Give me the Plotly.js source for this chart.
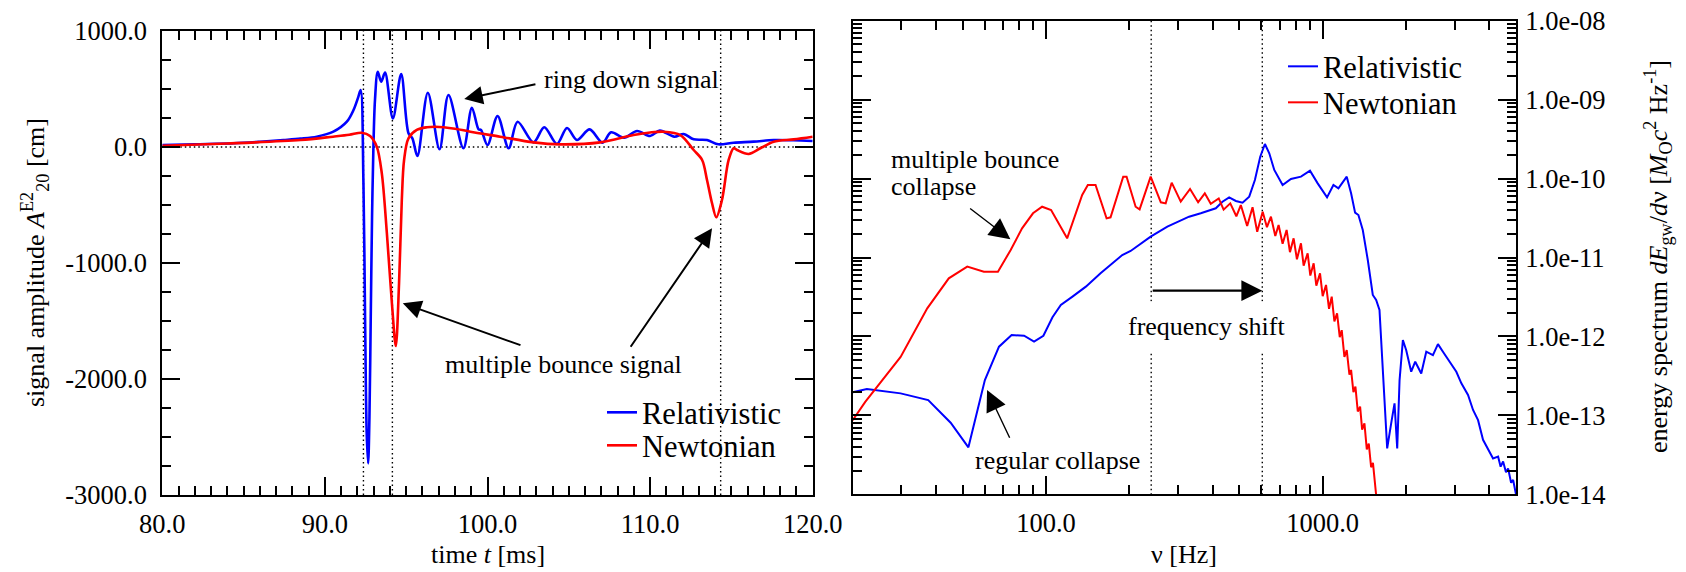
<!DOCTYPE html>
<html>
<head>
<meta charset="utf-8">
<script src="https://cdn.plot.ly/plotly-3.0.1.min.js"></script>
<style>
  html, body { margin: 0; padding: 0; background: #fff; }
  #chart { width: 1686px; height: 572px; }
</style>
</head>
<body>
<div id="chart"></div>
<script>
// ---- waveform: signal amplitude A20^E2 [cm] versus time [ms] ----
const tRel = [80, 82, 84.4, 86, 87.45, 88.5, 89.5, 90.52, 91.35, 91.76, 92.06, 92.2, 92.37, 92.47, 92.57,
  92.66, 92.74, 92.82, 92.9, 92.98, 93.08, 93.25, 93.46, 93.7, 94.18, 94.69, 95.14, 95.38, 95.69, 96.33,
  97.05, 97.6, 98.52, 99.04, 99.45, 99.6, 100.0, 100.62, 101.3, 101.85, 102.83, 103.49, 104.27, 104.89, 105.5,
  106.28, 107.08, 107.6, 108.4, 109.2, 110.0, 110.6, 111.49, 112.06, 112.68, 113.5, 114.2, 115.14, 116.37, 117.6,
  118.8, 120];
const ampRel = [17, 24, 32, 45, 60, 72, 89, 132, 218, 319, 434, 491, -310, -1463, -2466,
  -2727, -2325, -1463, -601, -26, 405, 649, 563, 641, 247, 629, 118, 75, -78, 468,
  -20, 448, -11, 339, 152, 147, 17, 267, -11, 218, 40, 170, 26, 164, 60,
  152, 37, 127, 80, 138, 95, 141, 89, 112, 66, 60, 23, 37, 46, 60,
  58, 52];

const tNew = [80, 84, 88.5, 90.5, 91.5, 92.27, 92.78, 93.19, 93.5, 93.81, 94.12, 94.36, 94.56, 94.73, 94.87,
  95.14, 95.65, 96.27, 96.78, 98.0, 98.94, 100.78, 102.83, 104.47, 106.93, 108.98, 110.0, 110.83, 111.86, 112.68,
  113.2, 113.5, 113.81, 114.07, 114.42, 114.83, 115.14, 115.35, 116.06, 116.78, 117.6, 118.83, 120];
const ampNew = [11, 30, 60, 89, 105, 123, 95, 3, -227, -741, -1345, -1716, -1175, -457, -112,
  75, 147, 170, 175, 158, 132, 89, 40, 23, 40, 103, 125, 132, 103, -26,
  -112, -284, -485, -606, -457, -112, -11, -26, -60, -11, 46, 66, 89];

// bounce times marked with dotted lines [ms]
const bounceTimes = [92.37, 94.15, 114.34];

// ---- energy spectrum dE/dnu versus frequency [Hz] ----
const nuRel = [20, 22.5, 29.8, 37.5, 45.2, 52.4, 60.1, 67.6, 75.1, 83.3, 90.5, 97.8, 105.5, 113.1, 124.6,
  139.3, 157.4, 171.1, 188.6, 202.2, 219.8, 238.9, 274.5, 328.9, 362.5, 410.9, 434.3, 459.2, 485.5, 513.3,
  542.7, 568.9, 594.8, 618.4, 641.2, 668.5, 716.5, 768, 834.8, 900, 959.4, 1037.2, 1093.7, 1140.2, 1222,
  1267, 1310, 1346.7, 1396.5, 1456, 1518, 1561, 1605, 1651, 1711, 1769, 1819, 1860, 1897, 1950,
  2005, 2090, 2161, 2272, 2369, 2504, 2611, 2722, 2919, 3043, 3173, 3354, 3497, 3646, 3800,
  3986, 4131, 4308, 4400, 4491, 4600, 4682, 4800, 4882, 5000];
const specRel = [1.96e-13, 2.16e-13, 1.9e-13, 1.56e-13, 8.07e-14, 3.94e-14, 2.8e-13, 7.41e-13, 1.04e-12, 1.02e-12, 8.6e-13, 1.02e-12, 1.75e-12, 2.5e-12, 3.19e-12,
  4.27e-12, 6.3e-12, 8.04e-12, 1.076e-11, 1.21e-11, 1.51e-11, 1.84e-11, 2.46e-11, 3.29e-11, 3.63e-11, 4.2e-11, 5.09e-11, 5.78e-11, 5.2e-11, 4.95e-11,
  5.9e-11, 9.6e-11, 1.89e-10, 2.74e-10, 2.09e-10, 1.285e-10, 8.28e-11, 9.9e-11, 1.057e-10, 1.26e-10, 8.7e-11, 5.78e-11, 8.28e-11, 7.52e-11, 1.057e-10,
  6.5e-11, 3.7e-11, 3.45e-11, 2.23e-11, 9.3e-12, 3.35e-12, 2.9e-12, 2.16e-12, 3.4e-13, 3.82e-14, 7.9e-14, 1.42e-13, 3.82e-14, 2.8e-13, 9.0e-13,
  6.7e-13, 3.57e-13, 4.79e-13, 3.4e-13, 6.4e-13, 5.8e-13, 8.0e-13, 6.4e-13, 4.35e-13, 3.57e-13, 2.55e-13, 1.81e-13, 1.17e-13, 8.7e-14, 4.9e-14,
  3.64e-14, 2.85e-14, 3.0e-14, 2.24e-14, 2.6e-14, 1.9e-14, 2.13e-14, 1.4e-14, 1.52e-14, 1.0e-14];

const nuNew = [20, 22.2, 29.8, 37.2, 44.5, 51.9, 59.6, 67.0, 74.5, 81.9, 89.7, 96.8, 104.3, 119.2, 135.1,
  141.6, 151, 165.5, 171.1, 190.1, 195.5, 210.8, 217.9, 238.9, 260, 270.7, 284.6, 306.9, 331.6, 354.6,
  374.9, 394, 421, 438.5, 463.5, 487.5, 506, 533.4, 557.9, 580, 607, 628.9, 650.2, 674.2, 693,
  716.5, 740.8, 761.7, 785.3, 807.2, 834.8, 853.6, 882.6, 902.4, 927.8, 948.7, 978.3, 1000.3, 1028.5, 1054.6,
  1078.4, 1102.6, 1127.5, 1152.9, 1172, 1198.6, 1222, 1249.6, 1267, 1292, 1313.7, 1339.6, 1365.8, 1389, 1416,
  1444, 1468, 1497, 1520, 1565];
const specNew = [8.7e-14, 1.48e-13, 5.5e-13, 2.27e-12, 5.45e-12, 7.66e-12, 6.6e-12, 6.6e-12, 1.245e-11, 2.34e-11, 3.63e-11, 4.4e-11, 4.0e-11, 1.75e-11, 6.2e-11,
  8.28e-11, 8.28e-11, 3.13e-11, 3.23e-11, 1.057e-10, 1.057e-10, 4.4e-11, 4.07e-11, 1.057e-10, 5.0e-11, 4.85e-11, 8.87e-11, 5.1e-11, 7.38e-11, 5.0e-11,
  6.5e-11, 4.8e-11, 5.6e-11, 4.04e-11, 4.85e-11, 3.33e-11, 4.62e-11, 2.51e-11, 4.33e-11, 2.12e-11, 3.81e-11, 2.42e-11, 3.29e-11, 1.87e-11, 2.58e-11,
  1.49e-11, 2.23e-11, 1.17e-11, 1.75e-11, 9.5e-12, 1.51e-11, 7.9e-12, 1.13e-11, 5.9e-12, 8.43e-12, 4.4e-12, 6.31e-12, 3.24e-12, 4.49e-12, 2.24e-12,
  3.19e-12, 1.55e-12, 1.96e-12, 9.8e-13, 1.2e-12, 5.5e-13, 6.7e-13, 3.27e-13, 3.76e-13, 1.97e-13, 2.31e-13, 1.12e-13, 1.29e-13, 6.6e-14, 7.9e-14,
  3.7e-14, 4.4e-14, 2.2e-14, 2.5e-14, 8.9e-15];

// peak frequencies of the two collapse models [Hz]
const peakFreqs = [240, 605];

// ---- tick labels ----
const timeTicks = [80, 90, 100, 110, 120];
const timeLabels = ['80.0', '90.0', '100.0', '110.0', '120.0'];
const ampTicks = [1000, 0, -1000, -2000, -3000];
const ampLabels = ['1000.0', '0.0', '-1000.0', '-2000.0', '-3000.0'];
const freqTicks = [100, 1000];
const freqLabels = ['100.0', '1000.0'];
const specTicks = [1e-8, 1e-9, 1e-10, 1e-11, 1e-12, 1e-13, 1e-14];
const specLabels = ['1.0e-08', '1.0e-09', '1.0e-10', '1.0e-11', '1.0e-12', '1.0e-13', '1.0e-14'];

// ---------------------------------------------------------------------
const W = 1686, H = 572;
const fx = p => p / W;          // pixel column -> paper x
const fy = p => 1 - p / H;      // pixel row    -> paper y
const FONT = '"Liberation Serif", "Times New Roman", Times, serif';
const BLUE = '#0000ff', RED = '#ff0000';

const range = (a, b, s) => { const r = []; for (let v = a; v <= b + 1e-9; v += s) r.push(+v.toFixed(6)); return r; };
const timeMinor = range(80, 120, 1).filter(v => v % 10 !== 0);
const ampMinor = range(-3000, 1000, 250).filter(v => v % 1000 !== 0);
const freqMinor = [];
[10, 100, 1000].forEach(d => { for (let k = 2; k <= 9; k++) freqMinor.push(k * d); });
const specMinor = [];
for (let e = -14; e < -8; e++) for (let k = 2; k <= 9; k++) specMinor.push(k * Math.pow(10, e));

const L = Math.log10;

const traces = [
  { x: tRel, y: ampRel, xaxis: 'x', yaxis: 'y', type: 'scatter', mode: 'lines', name: 'Relativistic',
    line: { color: BLUE, width: 2.6, shape: 'spline', smoothing: 0.9 }, legend: 'legend' },
  { x: tNew, y: ampNew, xaxis: 'x', yaxis: 'y', type: 'scatter', mode: 'lines', name: 'Newtonian',
    line: { color: RED, width: 2.6, shape: 'spline', smoothing: 0.9 }, legend: 'legend2' },
  // dotted markers at the two peak frequencies
  ...peakFreqs.map(f => ({ x: [f, f], y: [specTicks[0], specTicks[6]], xaxis: 'x2', yaxis: 'y2',
    type: 'scatter', mode: 'lines', showlegend: false, hoverinfo: 'skip',
    line: { color: 'black', width: 1.4, dash: '1.5px,3px' } })),
  { x: nuRel, y: specRel, xaxis: 'x2', yaxis: 'y2', type: 'scatter', mode: 'lines', name: 'Relativistic',
    line: { color: BLUE, width: 2 }, legend: 'legend3' },
  { x: nuNew, y: specNew, xaxis: 'x2', yaxis: 'y2', type: 'scatter', mode: 'lines', name: 'Newtonian',
    line: { color: RED, width: 2 }, legend: 'legend4' }
];

const axisCommon = {
  showline: true, linecolor: 'black', linewidth: 2, mirror: 'ticks',
  ticks: 'inside', ticklen: 18, tickwidth: 2, tickcolor: 'black',
  showgrid: false, zeroline: false, tickfont: { family: FONT, size: 26.5, color: 'black' },
  tickmode: 'array'
};
const minorCommon = { ticks: 'inside', ticklen: 9, tickwidth: 2, tickcolor: 'black', showgrid: false, tickmode: 'array' };

const dotted = { color: 'black', width: 1.4, dash: '1.5px,3px' };
const shapes = [
  ...bounceTimes.map(t => ({ type: 'line', xref: 'x', yref: 'y domain', x0: t, x1: t, y0: 0, y1: 1, line: dotted, layer: 'below' })),
  { type: 'line', xref: 'x domain', yref: 'y', x0: 0, x1: 1, y0: 0, y1: 0, line: dotted, layer: 'below' }
];

const txt = (s) => ({ family: FONT, size: s || 26, color: 'black' });
const arrowL = { showarrow: true, arrowhead: 2, arrowsize: 1.85, arrowwidth: 2, arrowcolor: 'black', text: '', axref: 'x', ayref: 'y', xref: 'x', yref: 'y' };
const arrowR = { showarrow: true, arrowhead: 2, arrowcolor: 'black', text: '', axref: 'x2', ayref: 'y2', xref: 'x2', yref: 'y2' };

const annotations = [
  // axis titles
  { xref: 'paper', yref: 'paper', x: fx(487.5), y: fy(554), text: 'time <i>t</i> [ms]', showarrow: false, font: txt(), xanchor: 'center', yanchor: 'middle' },
  { xref: 'paper', yref: 'paper', x: fx(1184), y: fy(554), text: 'ν [Hz]', showarrow: false, font: txt(), xanchor: 'center', yanchor: 'middle' },
  { xref: 'paper', yref: 'paper', x: fx(35), y: fy(263), text: 'signal amplitude <i>A</i><sup>E2</sup><sub>20</sub> [cm]', textangle: -90, showarrow: false, font: txt(), xanchor: 'center', yanchor: 'middle' },
  { xref: 'paper', yref: 'paper', x: fx(1658), y: fy(257), text: 'energy spectrum <i>dE</i><sub>gw</sub>/<i>d</i>ν [<i>M</i><sub>O</sub><i>c</i><sup>2</sup> Hz<sup>-1</sup>]', textangle: -90, showarrow: false, font: txt(), xanchor: 'center', yanchor: 'middle' },

  // waveform panel notes
  { xref: 'x', yref: 'y', x: 108.84, y: 586, text: 'ring down signal', showarrow: false, font: txt() },
  Object.assign({}, arrowL, { x: 98.57, y: 414, ax: 103.04, ay: 543 }),
  { xref: 'x', yref: 'y', x: 104.66, y: -1879, text: 'multiple bounce signal', showarrow: false, font: txt() },
  Object.assign({}, arrowL, { x: 94.79, y: -1347, ax: 102.12, ay: -1713 }),
  Object.assign({}, arrowL, { x: 113.81, y: -701, ax: 108.74, ay: -1735 }),

  // spectrum panel notes (log axes take log10 positions)
  { xref: 'x2', yref: 'y2', x: 1.4336, y: -9.756, text: 'multiple bounce', showarrow: false, font: txt(), xanchor: 'left' },
  { xref: 'x2', yref: 'y2', x: 1.4336, y: -10.103, text: 'collapse', showarrow: false, font: txt(), xanchor: 'left' },
  Object.assign({}, arrowR, { x: L(74.3), y: -10.77, ax: L(52.5), ay: -10.364, arrowwidth: 1.4, arrowsize: 3 }),
  { xref: 'x2', yref: 'y2', x: 2.043, y: -13.566, text: 'regular collapse', showarrow: false, font: txt() },
  Object.assign({}, arrowR, { x: L(61.2), y: -12.679, ax: L(74.3), ay: -13.303, arrowwidth: 1.4, arrowsize: 3 }),
  { xref: 'x2', yref: 'y2', x: 2.5803, y: -11.868, text: 'frequency shift', showarrow: false, font: txt(), bgcolor: 'white', borderpad: 10 },
  Object.assign({}, arrowR, { x: L(peakFreqs[1]), y: -11.42, ax: L(peakFreqs[0]), ay: -11.42, arrowwidth: 2.2, arrowsize: 1.9 })
];

// one legend box per entry so each row sits at its own height
const legendBox = (x, yTop) => ({
  x: fx(x), y: fy(yTop), xanchor: 'left', yanchor: 'top',
  bgcolor: 'rgba(0,0,0,0)', borderwidth: 0,
  font: { family: FONT, size: 30.5, color: 'black' }, itemclick: false
});

const layout = {
  width: W, height: H,
  margin: { l: 0, r: 0, t: 0, b: 0 },
  paper_bgcolor: 'white', plot_bgcolor: 'white',
  font: { family: FONT, size: 26, color: 'black' },
  showlegend: true,
  xaxis: Object.assign({}, axisCommon, {
    domain: [fx(162.3), fx(812.7)], anchor: 'y', range: [80, 120],
    tickvals: timeTicks, ticktext: timeLabels, ticklabelstandoff: 4,
    minor: Object.assign({}, minorCommon, { tickvals: timeMinor })
  }),
  yaxis: Object.assign({}, axisCommon, {
    domain: [fy(495), fy(31)], anchor: 'x', range: [-3000, 1000],
    tickvals: ampTicks, ticktext: ampLabels, ticklabelstandoff: 8,
    minor: Object.assign({}, minorCommon, { tickvals: ampMinor })
  }),
  xaxis2: Object.assign({}, axisCommon, {
    domain: [fx(852.7), fx(1516)], anchor: 'y2', type: 'log', range: [L(20), L(5000)],
    tickvals: freqTicks, ticktext: freqLabels, ticklabelstandoff: 4,
    minor: Object.assign({}, minorCommon, { tickvals: freqMinor })
  }),
  yaxis2: Object.assign({}, axisCommon, {
    domain: [fy(494.3), fy(20.7)], anchor: 'x2', type: 'log', range: [-14, -8], side: 'right',
    tickvals: specTicks, ticktext: specLabels, ticklabelstandoff: 2,
    minor: Object.assign({}, minorCommon, { tickvals: specMinor })
  }),
  legend: legendBox(602, 386),
  legend2: legendBox(602, 419),
  legend3: legendBox(1283, 40),
  legend4: legendBox(1283, 76),
  shapes: shapes,
  annotations: annotations
};

Plotly.newPlot('chart', traces, layout, { staticPlot: true, displayModeBar: false });
</script>
</body>
</html>
